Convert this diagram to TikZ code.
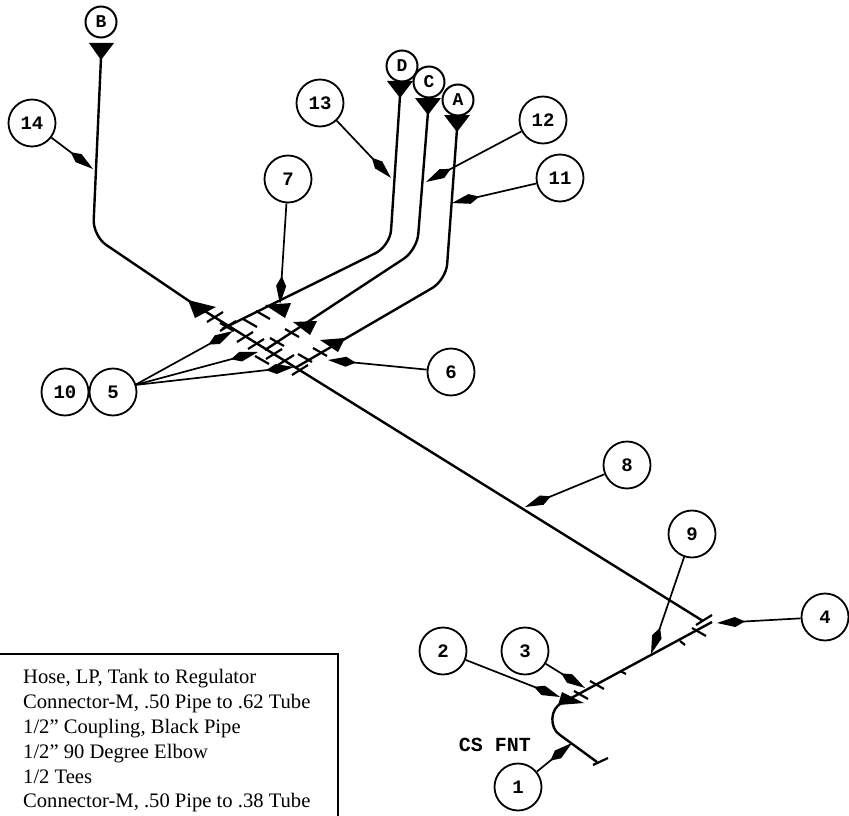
\documentclass[tikz,border=0pt]{standalone}
\usepackage{fontspec}
\setmainfont{Liberation Serif}
\newfontfamily\cadfont{Liberation Mono}
\usetikzlibrary{arrows.meta}
\tikzset{
  callout/.style={circle,draw,line width=1.8pt,minimum size=47pt,inner sep=0pt,font=\cadfont\bfseries\fontsize{19}{19}\selectfont},
  letter/.style={circle,draw,line width=2pt,minimum size=31pt,inner sep=0pt,font=\cadfont\bfseries\fontsize{18}{18}\selectfont},
  leader/.style={line width=1.7pt,-{Kite[length=28pt,width=10pt,inset=10pt]}},
  pipe/.style={line width=2.4pt,rounded corners=16pt},
  tick/.style={line width=2.2pt},
  tip/.style={fill=black,draw=none},
}
\begin{document}
\begin{tikzpicture}[x=1pt,y=-1pt]
\useasboundingbox (0,0) rectangle (849,816);
% named points
\foreach \n/\x/\y in {p14/93/169,p13/391/178,p12/426/182,p11/452/203,p7/280/304,p6/328/360,p8/525/507,p9/651/654,p4/717/623,p2/560/697,p3/585/688,p1/572/743,
 f1/233/331,f2/258/352,f3/294/367,
 bTop/101/58,dTop/400/96,cTop/428/112,aTop/457/129,
 b1/93/236,d1/390/246,c1/417/250,a1/446/280,
 mainA/195/305,mainB/703/621,dEnd/222/329,cEnd/265/350,aEnd/295/368,
 lowA/712/622,lowB/562/703,lowC/597/762,t1/593/765,t2/608/758}
  {\coordinate (\n) at (\x,\y);}
% pipes
\draw[pipe] (bTop) -- (b1) -- (mainA);
\draw[pipe] (dTop) -- (d1) -- (dEnd);
\draw[pipe] (cTop) -- (c1) -- (cEnd);
\draw[pipe] (aTop) -- (a1) -- (aEnd);
\draw[pipe,rounded corners=0pt] (mainA) -- (mainB);
\draw[pipe,rounded corners=0pt] (lowA) -- (lowB);
\draw[line width=2.4pt] (lowB) .. controls (550,708) and (549,728) .. (560,735) -- (lowC);
\draw[tick] (t1) -- (t2);
% terminal triangles
\fill[tip] (89,43) -- (114,43) -- (101,60) -- cycle;
\fill[tip] (387,81) -- (413,81) -- (400,98) -- cycle;
\fill[tip] (415,98) -- (441,98) -- (428,115) -- cycle;
\fill[tip] (444,115) -- (470,115) -- (457,132) -- cycle;
% junction triangles
\fill[tip] (188,300) -- (216,307) -- (195,318) -- cycle;
\fill[tip] (265,305) -- (291,303) -- (285,318) -- cycle;
\fill[tip] (293,322) -- (317,321) -- (310,335) -- cycle;
\fill[tip] (320,340) -- (345,338) -- (338,352) -- cycle;
\fill[tip] (562,692) -- (584,703) -- (558,705) -- cycle;
% ticks on main line
\foreach \x/\y in {215/317,228/326,245/337,256/344,274/354,286/360,300/370,704/620}
  {\draw[tick] (\x-8,\y+5) -- (\x+8,\y-5);}
% ticks on branches
\foreach \x/\y in {263/315,250/323,227/327,292/333,277/342,320/352,305/358,262/360,699/632,597/685,581/695}
  {\draw[tick] (\x-7,\y-4) -- (\x+7,\y+4);}
\draw[tick] (620,671) -- (626,674);
\draw[tick] (680,641) -- (685,645);
% callouts
\foreach \n/\t/\x/\y in {c14/14/32/123,c13/13/320/103,c12/12/543/120,c11/11/560/178,c7/7/288/179,c6/6/451/372,c10/10/65/392,c5/5/113/392,c8/8/627/465,c9/9/692/534,c4/4/825/617,c2/2/443/651,c3/3/525/651,c1/1/518/787}
  {\node[callout,fill=white] (\n) at (\x,\y) {\t};}
\foreach \n/\t/\x/\y in {lB/B/101/22,lD/D/402/66,lC/C/429/82,lA/A/458/100}
  {\node[letter,fill=white] (\n) at (\x,\y) {\t};}
% leaders
\draw[leader] (c14) -- (p14);
\draw[leader] (c13) -- (p13);
\draw[leader] (c12) -- (p12);
\draw[leader] (c11) -- (p11);
\draw[leader] (c7) -- (p7);
\draw[leader] (c6) -- (p6);
\draw[leader] (c8) -- (p8);
\draw[leader] (c9) -- (p9);
\draw[leader] (c4) -- (p4);
\draw[leader] (c2) -- (p2);
\draw[leader] (c3) -- (p3);
\draw[leader] (c1) -- (p1);
\coordinate (fan) at (135,385);
\draw[leader] (fan) -- (f1);
\draw[leader] (fan) -- (f2);
\draw[leader] (fan) -- (f3);
\node[font=\cadfont\bfseries\fontsize{20}{20}\selectfont,inner sep=0pt] (csfnt) at (495,745) {CS FNT};
% parts list
\draw[line width=1.8pt] (-2,654) -- (338,654) -- (338,818);
\foreach \n/\t/\y in {
 r1/{Hose, LP, Tank to Regulator}/683,
 r2/{Connector-M, .50 Pipe to .62 Tube}/708,
 r3/{1/2'' Coupling, Black Pipe}/733,
 r4/{1/2'' 90 Degree Elbow}/758,
 r5/{1/2 Tees}/783,
 r6/{Connector-M, .50 Pipe to .38 Tube}/807}
  {\node[anchor=base west,inner sep=0pt,font=\fontsize{20.6}{20.6}\selectfont] (\n) at (23,\y) {\t};}
\end{tikzpicture}
\end{document}
